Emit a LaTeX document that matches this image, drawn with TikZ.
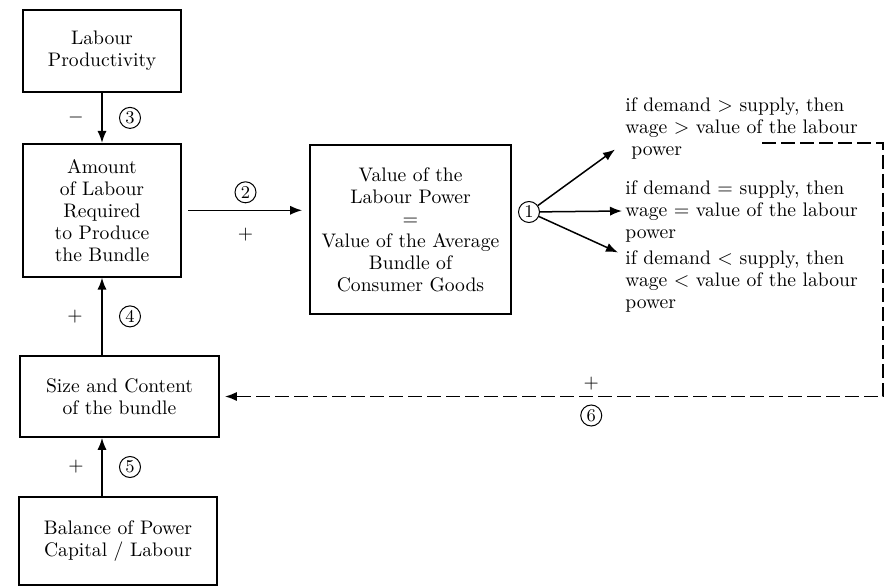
\documentclass[tikz,border=0pt]{standalone}
\usepackage{fontspec}
\usetikzlibrary{arrows.meta,positioning}

\begin{document}
\begin{tikzpicture}[
  x=0.5pt, y=-0.5pt,
  font=\fontsize{9.8}{11}\selectfont,
  >={Latex[length=6pt,width=4.6pt]},
  box/.style={draw, line width=0.9pt, align=center, inner sep=2pt},
  num/.style={circle, draw, solid, line width=0.5pt, inner sep=0pt, minimum size=10.5pt, font=\fontsize{9}{9}\selectfont},
  cond/.style={align=left, anchor=west, inner sep=0pt},
  arrow/.style={line width=0.75pt, ->},
  dasharrow/.style={line width=0.9pt, dash pattern=on 7pt off 2.5pt, ->}
]
\useasboundingbox (0,0) rectangle (887,587);
% Left column
\node[box, minimum width=79pt, minimum height=41pt] (prod) at (102,51) {Labour\\Productivity};
\node[box, minimum width=79pt, minimum height=66.5pt, below=25pt of prod] (amount) {Amount\\of Labour\\Required\\to Produce\\the Bundle};
\node[box, minimum width=99.5pt, minimum height=40.5pt] (size) at (119.5,396.5) {Size and Content\\of the bundle};
\node[box, minimum width=99pt, minimum height=44pt] (balance) at (118,541) {Balance of Power\\Capital / Labour};
\draw[arrow] (prod.south) -- (amount.north) node[midway, xshift=-13pt] {$-$} node[num, midway, xshift=14pt] {3};
\draw[arrow] (size.north -| amount.south) -- (amount.south) node[midway, xshift=-13.5pt] {+} node[num, midway, xshift=14pt] {4};
\draw[arrow] (balance.north -| amount.south) -- (size.south -| amount.south) node[midway, xshift=-13pt] {+} node[num, midway, xshift=14pt] {5};
% Value of labour power
\node[box, minimum width=100.5pt, minimum height=84.5pt] (value) at (410.5,229.5) {Value of the\\Labour Power\\$=$\\Value of the Average\\Bundle of\\Consumer Goods};
\draw[arrow, shorten <=3pt, shorten >=3.5pt] (amount.east) -- (amount.east -| value.west) node[num, midway, yshift=9pt] {2} node[midway, yshift=-12pt] {+};
% Wage cases
\node[num] (one) at (529,212) {1};
\node[cond] (high) at (625,128.5) {if demand $>$ supply, then\\wage $>$ value of the labour\\\hspace{3pt}power};
\node[cond] (equal) at (625,211) {if demand $=$ supply, then\\wage $=$ value of the labour\\power};
\node[cond] (low) at (625,281.5) {if demand $<$ supply, then\\wage $<$ value of the labour\\power};
\draw[arrow] (one) -- ([xshift=-5pt,yshift=-10.5pt]high.west);
\draw[arrow] (one) -- ([xshift=-1.5pt]equal.west);
\draw[arrow] (one) -- ([xshift=-3.5pt,yshift=14.5pt]low.west);
% Feedback
\coordinate (fbstart) at (762,143);
\coordinate (fbcorner) at (883,143);
\draw[dasharrow, shorten >=2.5pt] (fbstart) -- (fbcorner) |- node[pos=0.72, yshift=6.5pt] {+} node[num, pos=0.72, yshift=-9.5pt] {6} (size.east);
\end{tikzpicture}
\end{document}
